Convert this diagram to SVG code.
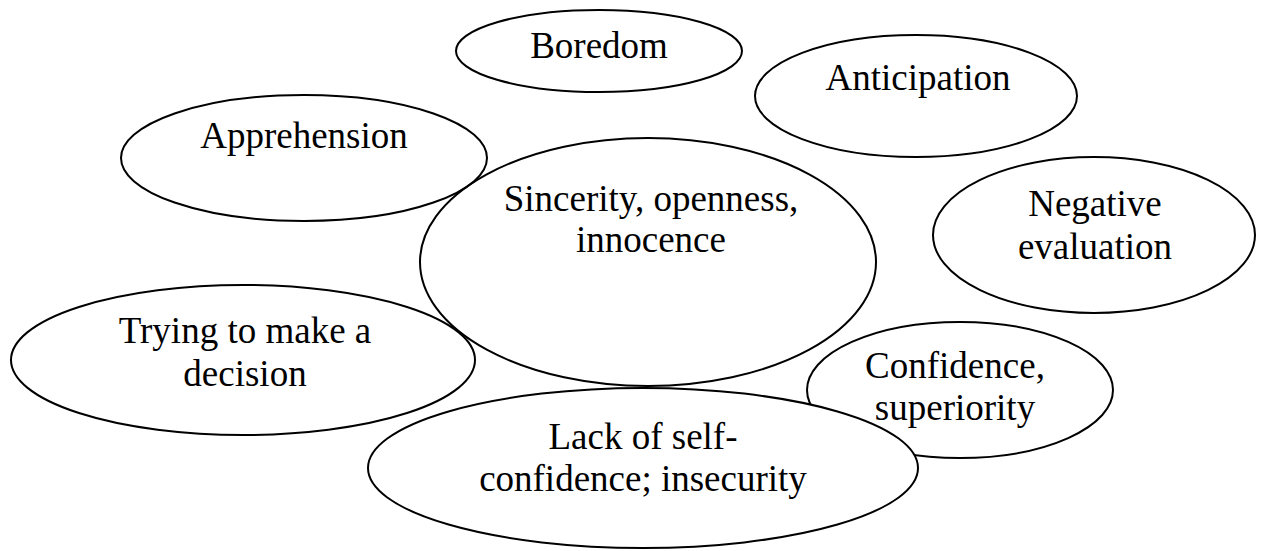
<svg xmlns="http://www.w3.org/2000/svg" width="1266" height="551" viewBox="0 0 1266 551">
<style>
.e{fill:none;stroke:#000;stroke-width:2}
.w{fill:#fff;stroke:#000;stroke-width:2}
.t{font-family:'Liberation Serif','Times New Roman','DejaVu Serif',serif;font-size:37px;fill:#000;text-anchor:middle}
</style>
<rect width="1266" height="551" fill="#fff"/>
<g id="boredom"><ellipse class="e" cx="599" cy="51" rx="143" ry="41"/><text class="t" x="599" y="58">Boredom</text></g>
<g id="anticipation"><ellipse class="e" cx="916" cy="96" rx="161" ry="61"/><text class="t" x="918" y="90">Anticipation</text></g>
<g id="apprehension"><ellipse class="e" cx="304" cy="158" rx="183" ry="63"/><text class="t" x="304" y="148">Apprehension</text></g>
<g id="sincerity"><ellipse class="e" cx="648" cy="262" rx="228" ry="124"/><text class="t" x="651" y="211">Sincerity, openness,</text><text class="t" x="651" y="252">innocence</text></g>
<g id="negative"><ellipse class="e" cx="1094" cy="235" rx="161" ry="78"/><text class="t" x="1095" y="216">Negative</text><text class="t" x="1095" y="259">evaluation</text></g>
<g id="trying"><ellipse class="e" cx="243" cy="360" rx="232" ry="75"/><text class="t" x="245" y="343">Trying to make a</text><text class="t" x="245" y="386">decision</text></g>
<g id="confidence"><ellipse class="e" cx="960" cy="390" rx="153" ry="68"/></g>
<g id="lack"><ellipse class="w" cx="643" cy="468" rx="275" ry="80"/><text class="t" x="643" y="449">Lack of self-</text><text class="t" x="643" y="491">confidence; insecurity</text></g>
<g id="confidence-text"><text class="t" x="955" y="378">Confidence,</text><text class="t" x="955" y="420">superiority</text></g>
<g id="connectors"></g>
</svg>
